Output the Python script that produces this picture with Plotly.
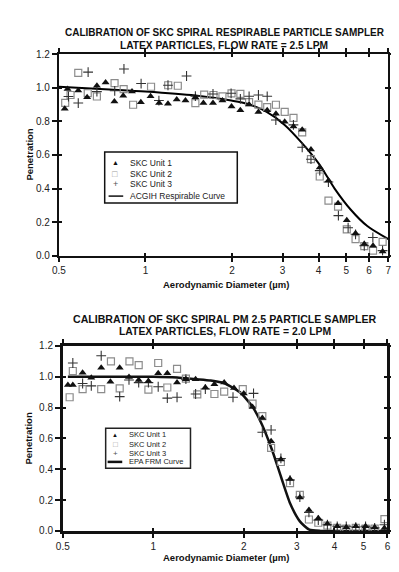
import math
import plotly.graph_objects as go

W, H = 399, 572
FONT = "Liberation Sans, Arial, sans-serif"

# ---------------- TOP CHART DATA (Respirable sampler, 2.5 LPM) ----------------
top_u1_d = [0.524, 0.536, 0.584, 0.627, 0.678, 0.727, 0.780, 0.837, 0.898, 0.964, 1.042, 1.116,
            1.198, 1.285, 1.378, 1.492, 1.591, 1.718, 1.853, 1.993, 2.139, 2.294, 2.472, 2.652,
            2.844, 3.051, 3.273, 3.510, 3.765, 4.039, 4.332, 4.677, 5.016, 5.381, 5.771, 6.190, 6.684]
top_u1_p = [0.875, 0.992, 0.984, 0.943, 1.012, 1.031, 0.918, 0.953, 0.978, 0.914, 0.949, 0.909,
            0.905, 0.930, 0.924, 0.943, 0.909, 0.909, 0.924, 0.889, 0.866, 0.900, 0.856, 0.866,
            0.846, 0.798, 0.769, 0.750, 0.633, 0.526, 0.448, 0.313, 0.211, 0.134, 0.070, 0.060, 0.026]

top_u2_d = [0.526, 0.549, 0.584, 0.630, 0.678, 0.781, 0.840, 0.906, 1.046, 1.200, 1.296, 1.492,
            1.601, 1.725, 1.853, 1.993, 2.139, 2.294, 2.472, 2.652, 2.844, 3.051, 3.273, 3.510,
            3.765, 4.039, 4.332, 4.677, 5.016, 5.381, 5.771, 6.190, 6.684]
top_u2_p = [0.910, 0.957, 1.089, 0.968, 0.948, 1.027, 0.992, 0.899, 1.006, 1.015, 1.012, 0.909,
            0.959, 0.957, 0.949, 0.967, 0.963, 0.914, 0.900, 0.885, 0.899, 0.856, 0.821, 0.735,
            0.575, 0.472, 0.328, 0.293, 0.157, 0.099, 0.058, 0.031, 0.083]

top_u3_d = [0.540, 0.584, 0.632, 0.678, 0.782, 0.842, 0.966, 1.114, 1.198, 1.390, 1.492, 1.718,
            1.986, 2.139, 2.294, 2.472, 2.652, 2.842, 3.272, 3.510, 3.765, 4.040, 4.330, 4.690,
            5.070, 5.380, 5.770, 6.180, 6.680]
top_u3_p = [0.948, 0.909, 1.093, 0.977, 0.982, 1.112, 1.025, 0.924, 1.015, 1.070, 0.950, 0.963,
            0.967, 0.934, 0.949, 0.957, 0.949, 0.808, 0.779, 0.646, 0.575, 0.507, 0.439, 0.239,
            0.167, 0.128, 0.060, 0.109, 0.031]

top_curve_d = [0.5, 0.75, 1.0, 1.49, 1.99, 2.26, 2.64, 3.05, 3.5, 4.02, 4.55, 5.18, 5.91, 7.0]
top_curve_p = [1.006, 0.990, 0.978, 0.954, 0.924, 0.905, 0.856, 0.779, 0.672, 0.546, 0.400, 0.274, 0.177, 0.099]

# ---------------- BOTTOM CHART DATA (PM 2.5 sampler, 2.0 LPM) ----------------
bot_u1_d = [0.520, 0.540, 0.582, 0.622, 0.671, 0.720, 0.773, 0.830, 0.894, 0.963, 1.038, 1.113,
            1.199, 1.283, 1.382, 1.489, 1.596, 1.720, 1.854, 1.998, 2.137, 2.303, 2.463, 2.655,
            2.847, 3.069, 3.290, 3.535, 3.790, 4.086, 4.379, 4.709, 5.075, 5.441, 5.864]
bot_u1_p = [0.946, 0.946, 1.026, 0.994, 1.058, 0.967, 1.058, 0.998, 0.979, 0.973, 1.022, 1.022,
            0.962, 0.984, 0.984, 0.930, 0.952, 0.962, 0.927, 0.892, 0.803, 0.733, 0.581, 0.464,
            0.337, 0.216, 0.136, 0.083, 0.046, 0.030, 0.024, 0.030, 0.030, 0.024, 0.019]

bot_u2_d = [0.527, 0.540, 0.582, 0.671, 0.723, 0.773, 0.833, 0.894, 0.963, 1.038, 1.113, 1.199,
            1.283, 1.400, 1.596, 1.720, 1.983, 2.137, 2.303, 2.463, 2.655, 2.847, 3.069, 3.290,
            3.535, 3.790, 4.086, 4.379, 4.709, 5.075, 5.441, 5.864]
bot_u2_p = [0.867, 1.037, 0.920, 0.920, 1.100, 0.924, 1.100, 1.075, 0.916, 1.089, 0.930, 1.051,
            0.988, 0.885, 0.888, 0.903, 0.920, 0.825, 0.744, 0.539, 0.447, 0.310, 0.234, 0.074,
            0.053, 0.035, 0.020, 0.015, 0.020, 0.015, 0.015, 0.076]

bot_u3_d = [0.540, 0.582, 0.622, 0.671, 0.773, 0.830, 0.894, 0.963, 1.038, 1.113, 1.199, 1.283,
            1.382, 1.489, 1.840, 2.153, 2.303, 2.463, 2.655, 2.847, 3.069, 3.290, 3.535, 3.790,
            4.086, 4.379, 4.709, 5.075, 5.441, 5.864]
bot_u3_p = [1.089, 0.956, 0.941, 1.136, 0.871, 0.979, 0.962, 0.962, 0.935, 0.861, 0.867, 0.984,
            0.888, 0.920, 0.867, 0.892, 0.640, 0.655, 0.470, 0.330, 0.220, 0.120, 0.070, 0.040,
            0.030, 0.030, 0.025, 0.030, 0.020, 0.040]

bot_curve_d = [0.52, 0.8, 1.0, 1.2, 1.38, 1.55, 1.72, 1.94, 2.14, 2.30, 2.49, 2.66, 2.85, 3.07, 3.3,
               3.6, 4.0, 6.0]
bot_curve_p = [1.0, 1.0, 1.0, 0.995, 0.984, 0.975, 0.958, 0.899, 0.803, 0.687, 0.517, 0.348, 0.178,
               0.062, 0.008, 0.0, 0.0, 0.0]

# ---------------- TICKS & TEXT ----------------
top_xticks = [0.5, 1, 2, 3, 4, 5, 6, 7]
bot_xticks = [0.5, 1, 2, 3, 4, 5, 6]
y_ticks = [0.0, 0.2, 0.4, 0.6, 0.8, 1.0, 1.2]
y_ticklabels = ["0.0", "0.2", "0.4", "0.6", "0.8", "1.0", "1.2"]

top_title = ["CALIBRATION OF SKC SPIRAL RESPIRABLE PARTICLE SAMPLER",
             "LATEX PARTICLES, FLOW RATE = 2.5 LPM"]
bot_title = ["CALIBRATION OF SKC SPIRAL PM 2.5 PARTICLE SAMPLER",
             "LATEX PARTICLES, FLOW RATE = 2.0 LPM"]
top_legend = ["SKC Unit 1", "SKC Unit 2", "SKC Unit 3", "ACGIH Respirable Curve"]
bot_legend = ["SKC Unit 1", "SKC Unit 2", "SKC Unit 3", "EPA FRM Curve"]
x_title = "Aerodynamic Diameter (\u00b5m)"
y_title = "Penetration"


def fx(p):
    return p / W


def fy(p):
    return 1 - p / H


fig = go.Figure()

U1 = dict(symbol="triangle-up", size=7, color="#111111")
U2 = dict(symbol="square-open", size=7, color="#8c8c8c", line=dict(width=1.2, color="#8c8c8c"))
U3 = dict(symbol="cross-thin", size=7, color="#333333", line=dict(width=1.1, color="#333333"))

# top
fig.add_trace(go.Scatter(x=top_curve_d, y=top_curve_p, mode="lines", xaxis="x", yaxis="y",
                         line=dict(color="black", width=2, shape="spline", smoothing=0.8)))
fig.add_trace(go.Scatter(x=top_u2_d, y=top_u2_p, mode="markers", marker=U2, xaxis="x", yaxis="y"))
fig.add_trace(go.Scatter(x=top_u3_d, y=top_u3_p, mode="markers", marker=U3, xaxis="x", yaxis="y"))
fig.add_trace(go.Scatter(x=top_u1_d, y=top_u1_p, mode="markers", marker=U1, xaxis="x", yaxis="y"))
# bottom
fig.add_trace(go.Scatter(x=bot_curve_d, y=bot_curve_p, mode="lines", xaxis="x2", yaxis="y2",
                         line=dict(color="#111111", width=2.5, shape="spline", smoothing=0.6)))
fig.add_trace(go.Scatter(x=bot_u2_d, y=bot_u2_p, mode="markers", marker=U2, xaxis="x2", yaxis="y2"))
fig.add_trace(go.Scatter(x=bot_u3_d, y=bot_u3_p, mode="markers", marker=U3, xaxis="x2", yaxis="y2"))
fig.add_trace(go.Scatter(x=bot_u1_d, y=bot_u1_p, mode="markers", marker=U1, xaxis="x2", yaxis="y2"))
# empty traces to activate overlay axes (inner tick marks)
fig.add_trace(go.Scatter(x=[], y=[], xaxis="x3", yaxis="y3", showlegend=False))
fig.add_trace(go.Scatter(x=[], y=[], xaxis="x4", yaxis="y4", showlegend=False))

tickfont = dict(family=FONT, size=10, color="#222222")


def xax(ticks, dom, anchor, lw):
    return dict(type="log", range=[math.log10(0.5), math.log10(ticks[-1])], domain=dom, anchor=anchor,
                tickvals=ticks, ticktext=[str(t) for t in ticks], ticks="outside", ticklen=4,
                tickwidth=1.5, tickcolor="#111", mirror="ticks", showline=True, linewidth=lw,
                linecolor="#111", showgrid=False, zeroline=False, tickfont=tickfont)


def yax(dom, anchor, lw):
    return dict(range=[0, 1.2], domain=dom, anchor=anchor, tickvals=y_ticks, ticktext=y_ticklabels,
                ticks="outside", ticklen=5, tickwidth=1.5, tickcolor="#111", mirror="ticks",
                showline=True, linewidth=lw, linecolor="#111", showgrid=False, zeroline=False,
                tickfont=tickfont)


def xin(ticks, over, anchor):
    return dict(type="log", range=[math.log10(0.5), math.log10(ticks[-1])], overlaying=over,
                anchor=anchor, tickvals=ticks, ticks="inside", ticklen=3, tickwidth=1.5,
                tickcolor="#111", mirror="ticks", showline=False, showticklabels=False,
                showgrid=False, zeroline=False)


def yin(over, anchor):
    return dict(range=[0, 1.2], overlaying=over, anchor=anchor, tickvals=y_ticks, ticks="inside",
                ticklen=3, tickwidth=1.5, tickcolor="#111", mirror="ticks", showline=False,
                showticklabels=False, showgrid=False, zeroline=False)


top_xdom = [fx(45), fx(383)]
top_ydom = [fy(247), fy(41)]
bot_xdom = [fx(49), fx(382)]
bot_ydom = [fy(528), fy(339)]

annotations = []


def txt(s, x, y, size, bold=False, anchor="center", color="#111", angle=0):
    annotations.append(dict(text=("<b>%s</b>" % s) if bold else s, x=fx(x), y=fy(y), xref="paper",
                            yref="paper", xanchor=anchor, yanchor="middle", showarrow=False,
                            textangle=angle, font=dict(family=FONT, size=size, color=color)))


# titles
txt(top_title[0], 215, 19, 10, bold=True)
txt(top_title[1], 214, 32, 10.2, bold=True)
txt(bot_title[0], 215, 312, 10.6, bold=True)
txt(bot_title[1], 215, 324, 10.4, bold=True)
# axis titles
txt(x_title, 216, 276, 9.5, bold=True)
txt(x_title, 216, 555, 9.5, bold=True)
txt(y_title, 15, 144, 9.5, bold=True, angle=-90)
txt(y_title, 14, 434, 9.5, bold=True, angle=-90)

shapes = []
# top legend
shapes.append(dict(type="rect", xref="paper", yref="paper", x0=fx(92), x1=fx(228), y0=fy(193),
                   y1=fy(141), line=dict(color="#111", width=1.5), fillcolor="white", layer="above"))
ty = [152, 163, 174, 186]
for i, s in enumerate(top_legend):
    txt(s, 116, ty[i], 8.5, anchor="left", color="#222")
txt("\u25B2", 103, ty[0], 7, color="#111")
txt("\u25A1", 103, ty[1], 9, color="#9a9a9a")
txt("+", 103, ty[2], 9, color="#555")
shapes.append(dict(type="line", xref="paper", yref="paper", x0=fx(96), x1=fx(111), y0=fy(ty[3]),
                   y1=fy(ty[3]), line=dict(color="#111", width=1.5), layer="above"))
# bottom legend
shapes.append(dict(type="rect", xref="paper", yref="paper", x0=fx(93), x1=fx(180), y0=fy(464),
                   y1=fy(423), line=dict(color="#222", width=1.5), fillcolor="white", layer="above"))
by = [430, 439.5, 448.5, 457.5]
for i, s in enumerate(bot_legend):
    txt(s, 115, by[i], 7.5, anchor="left", color="#222")
txt("\u25B2", 103, by[0], 6, color="#111")
txt("\u25A1", 103, by[1], 8, color="#9a9a9a")
txt("+", 103, by[2], 8, color="#555")
shapes.append(dict(type="line", xref="paper", yref="paper", x0=fx(95), x1=fx(110), y0=fy(by[3]),
                   y1=fy(by[3]), line=dict(color="#111", width=2.5), layer="above"))

fig.update_layout(
    width=W, height=H, margin=dict(l=0, r=0, t=0, b=0), showlegend=False,
    paper_bgcolor="white", plot_bgcolor="white",
    xaxis=xax(top_xticks, top_xdom, "y", 2), yaxis=yax(top_ydom, "x", 2),
    xaxis2=xax(bot_xticks, bot_xdom, "y2", 2.5), yaxis2=yax(bot_ydom, "x2", 2.5),
    xaxis3=xin(top_xticks, "x", "y3"), yaxis3=yin("y", "x3"),
    xaxis4=xin(bot_xticks, "x2", "y4"), yaxis4=yin("y2", "x4"),
    annotations=annotations, shapes=shapes,
)

fig.write_html("out.html")
